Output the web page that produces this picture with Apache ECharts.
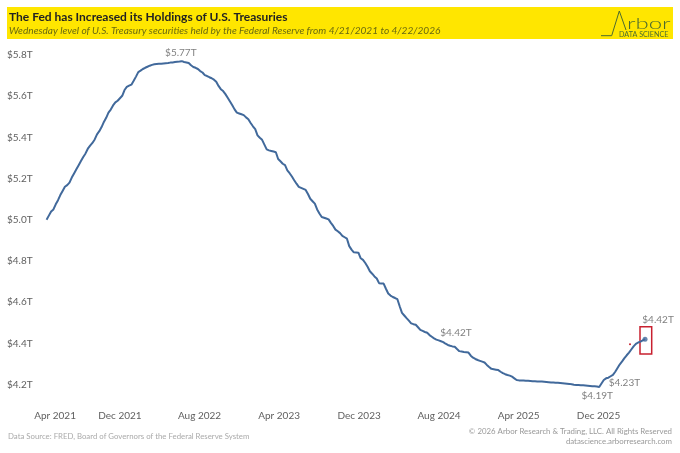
<!DOCTYPE html>
<html><head><meta charset="utf-8">
<style>html,body{margin:0;padding:0;background:#fff}#c{width:680px;height:453px}</style>
<script src="https://cdn.jsdelivr.net/npm/echarts@6/dist/echarts.min.js"></script>
</head><body><div id="c"></div>
<script>
var titleText = "The Fed has Increased its Holdings of U.S. Treasuries";
var subtitleText = "Wednesday level of U.S. Treasury securities held by the Federal Reserve from 4/21/2021 to 4/22/2026";
var sourceText = "Data Source: FRED, Board of Governors of the Federal Reserve System";
var copyrightText = "\u00a9 2026 Arbor Research & Trading, LLC. All Rights Reserved";
var siteText = "datascience.arborresearch.com";
var firstWeek = "2021-04-21";
var xLabelDates = ["2021-05-17","2021-12-01","2022-08-01","2023-04-01","2023-12-01","2024-08-01","2025-04-01","2025-12-01"];
var xLabelTexts = ["Apr 2021","Dec 2021","Aug 2022","Apr 2023","Dec 2023","Aug 2024","Apr 2025","Dec 2025"];
var holdings = [
5.00,5.02,5.04,5.05,5.075,5.095,5.12,5.14,5.16,5.168,
5.18,5.205,5.225,5.245,5.265,5.285,5.305,5.322,5.345,5.36,
5.373,5.39,5.415,5.43,5.45,5.475,5.495,5.52,5.535,5.555,
5.57,5.578,5.59,5.602,5.63,5.645,5.651,5.656,5.675,5.695,
5.717,5.724,5.732,5.738,5.743,5.748,5.752,5.755,5.756,5.757,
5.758,5.759,5.76,5.761,5.763,5.764,5.766,5.767,5.768,5.77,
5.766,5.764,5.761,5.75,5.742,5.738,5.732,5.722,5.715,5.702,
5.698,5.692,5.687,5.68,5.67,5.65,5.634,5.625,5.61,5.592,
5.574,5.556,5.536,5.52,5.516,5.512,5.508,5.497,5.488,5.47,
5.454,5.44,5.41,5.398,5.388,5.365,5.342,5.337,5.334,5.331,
5.328,5.295,5.284,5.272,5.265,5.24,5.226,5.21,5.192,5.175,
5.16,5.155,5.15,5.145,5.125,5.102,5.09,5.078,5.05,5.03,
5.013,5.01,5.006,5.002,4.985,4.97,4.952,4.944,4.935,4.922,
4.915,4.908,4.872,4.855,4.842,4.841,4.84,4.813,4.805,4.79,
4.772,4.75,4.738,4.725,4.715,4.692,4.691,4.69,4.665,4.642,
4.632,4.625,4.62,4.614,4.58,4.548,4.535,4.522,4.51,4.497,
4.493,4.49,4.478,4.465,4.46,4.455,4.451,4.44,4.432,4.424,
4.418,4.414,4.41,4.406,4.398,4.392,4.388,4.385,4.383,4.372,
4.362,4.36,4.358,4.357,4.355,4.34,4.33,4.324,4.319,4.315,
4.311,4.307,4.295,4.285,4.276,4.274,4.272,4.27,4.262,4.255,
4.25,4.246,4.243,4.238,4.23,4.222,4.22,4.219,4.219,4.218,
4.218,4.217,4.216,4.216,4.215,4.214,4.214,4.213,4.212,4.211,
4.21,4.21,4.209,4.208,4.207,4.206,4.205,4.204,4.203,4.201,
4.199,4.198,4.197,4.196,4.196,4.195,4.194,4.193,4.192,4.191,
4.19,4.188,4.205,4.222,4.23,4.233,4.24,4.247,4.262,4.28,
4.298,4.312,4.328,4.342,4.355,4.37,4.385,4.397,4.404,4.408,
4.414,4.42];
var calloutIndex = [59, 172, 241, 245, 261];
var calloutTexts = ["$5.77T","$4.42T","$4.19T","$4.23T","$4.42T"];
var calloutOffsets = [[-1,-8],[15,-8],[-2,9],[16,5],[13,-19]];

var start = new Date(firstWeek + "T00:00:00Z").getTime();
var week = 7*24*3600*1000;
var points = holdings.map(function(v,i){ return [start + i*week, v]; });
var labelTimes = xLabelDates.map(function(d){ return new Date(d + "T00:00:00Z").getTime(); });
var FONT = 'Lato,"Open Sans",sans-serif';

var chart = echarts.init(document.getElementById('c'), null, {renderer:'canvas'});
chart.setOption({
  animation:false,
  backgroundColor:'#fff',
  grid:{left:40,right:32,top:55,bottom:68.5},
  xAxis:{type:'value',min:Date.UTC(2021,3,1),max:Date.UTC(2026,4,1),scale:true,
    axisLine:{show:false},axisTick:{show:false},splitLine:{show:false},
    axisLabel:{customValues:labelTimes,margin:26,fontSize:10,fontFamily:FONT,color:'#5f5f5f',hideOverlap:false,
      formatter:function(v){var i=labelTimes.indexOf(+v);return i>=0?xLabelTexts[i]:'';}}},
  yAxis:{type:'value',min:4.2,max:5.8,interval:0.2,
    axisLine:{show:false},axisTick:{show:false},splitLine:{show:false},
    axisLabel:{margin:33,align:'left',fontSize:10,fontFamily:FONT,color:'#5f5f5f',
      formatter:function(v){return '$'+v.toFixed(1)+'T';}}},
  series:[{type:'line',data:points,clip:false,smooth:false,showSymbol:false,
    lineStyle:{color:'#41699b',width:2},itemStyle:{color:'#41699b'}},
    {type:'scatter',clip:false,z:4,symbolSize:0,silent:true,
      data:calloutIndex.map(function(ix,k){return {value:points[ix],
        label:{show:true,position:'inside',formatter:calloutTexts[k],offset:calloutOffsets[k],
          fontSize:10,fontFamily:FONT,color:'#5f5f5f'}};})},
    {type:'scatter',data:[points[points.length-1]],symbolSize:5,itemStyle:{color:'#41699b'},clip:false,z:3}],
  graphic:[
    {type:'rect',z:-1,shape:{x:7,y:7,width:666,height:32},style:{fill:'#ffe600'}},
    {type:'text',x:9,y:17,style:{text:titleText,font:'700 12px '+FONT,fill:'#222',textVerticalAlign:'middle'}},
    {type:'text',x:9,y:31,style:{text:subtitleText,font:'italic 10.1px '+FONT,fill:'#6a6a10',textVerticalAlign:'middle'}},
    {type:'polyline',shape:{points:[[601,35.7],[611.7,35.7],[619.3,11],[626,30]]},style:{stroke:'#4c6b2f',lineWidth:1,fill:null}},
    {type:'text',x:627,y:24,scaleX:1.6,style:{text:'rbor',font:'300 15px '+FONT,fill:'#4c6b2f',textVerticalAlign:'middle'}},
    {type:'text',x:619,y:34.5,style:{text:'DATA SCIENCE',font:'400 7.2px '+FONT,fill:'#4c6b2f',textVerticalAlign:'middle'}},
    {type:'rect',shape:{x:640,y:326.7,width:11.7,height:27.3},style:{fill:null,stroke:'#c8202f',lineWidth:1.5}},
    {type:'circle',shape:{cx:630,cy:344.3,r:1},style:{fill:'#c8202f'}},
    {type:'text',x:8,y:436,style:{text:sourceText,font:'7.8px '+FONT,fill:'#aaa',textVerticalAlign:'middle'}},
    {type:'text',x:672,y:431,style:{text:copyrightText,font:'7.85px '+FONT,fill:'#999',textAlign:'right',textVerticalAlign:'middle'}},
    {type:'text',x:672,y:441,style:{text:siteText,font:'7.85px '+FONT,fill:'#999',textAlign:'right',textVerticalAlign:'middle'}}
  ]
});
</script></body></html>
